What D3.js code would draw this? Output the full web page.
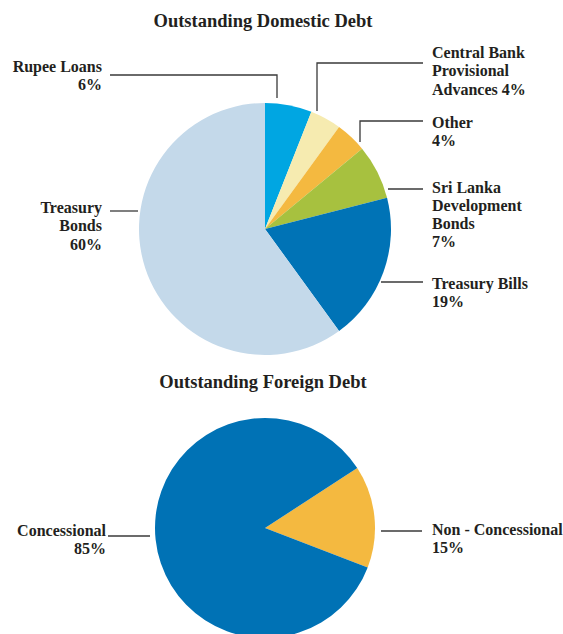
<!DOCTYPE html>
<html>
<head>
<meta charset="utf-8">
<script src="https://cdn.jsdelivr.net/npm/d3@7"></script>
<style>
  html, body { margin: 0; padding: 0; background: #ffffff; }
  svg { display: block; }
  text { font-family: "Liberation Serif", "Times New Roman", serif; font-weight: bold; fill: #231f20; }
</style>
</head>
<body>
<svg id="chart" width="563" height="634"></svg>
<script>
// Outstanding domestic debt composition (%)
const domesticCategories = ["Rupee Loans", "Central Bank Provisional Advances", "Other", "Sri Lanka Development Bonds", "Treasury Bills", "Treasury Bonds"];
const domesticValues = [6, 4, 4, 7, 19, 60];
const domesticColors = ["#00a6e2", "#f6ebb0", "#f4b940", "#a7c13f", "#0073b6", "#c4d9ea"];

// Outstanding foreign debt composition (%)
const foreignCategories = ["Non - Concessional", "Concessional"];
const foreignValues = [15, 85];
const foreignColors = ["#f4b940", "#0072b5"];

const titles = ["Outstanding Domestic Debt", "Outstanding Foreign Debt"];

const svg = d3.select("#chart");
const lineColor = "#3a3a3a";

// Label blocks: text lines, anchor point, alignment, and leader-line path
const domesticLabels = [
  { lines: ["Rupee Loans", "6%"], x: 102, y: 72, anchor: "end",
    leader: [[110, 75], [277, 75], [277, 98]] },
  { lines: ["Central Bank", "Provisional", "Advances 4%"], x: 432, y: 58, anchor: "start",
    leader: [[423, 63], [317, 63], [317, 111]] },
  { lines: ["Other", "4%"], x: 432, y: 128, anchor: "start",
    leader: [[423, 121], [360, 121], [360, 142]] },
  { lines: ["Sri Lanka", "Development", "Bonds", "7%"], x: 432, y: 192.5, anchor: "start",
    leader: [[388, 189], [423, 189]] },
  { lines: ["Treasury Bills", "19%"], x: 432, y: 288.5, anchor: "start",
    leader: [[381, 282], [423, 282]] },
  { lines: ["Treasury", "Bonds", "60%"], x: 102, y: 213, anchor: "end",
    leader: [[110, 211], [138, 211]] }
];

const foreignLabels = [
  { lines: ["Non - Concessional", "15%"], x: 432, y: 535, anchor: "start",
    leader: [[381, 531], [422, 531]] },
  { lines: ["Concessional", "85%"], x: 106, y: 536, anchor: "end",
    leader: [[108, 536], [150, 536]] }
];

function drawPie(values, colors, cx, cy, r, startAngle) {
  const pie = d3.pie().sort(null).value(d => d)
    .startAngle(startAngle).endAngle(startAngle + 2 * Math.PI);
  const arc = d3.arc().innerRadius(0).outerRadius(r);
  svg.append("g")
    .attr("transform", `translate(${cx},${cy})`)
    .selectAll("path")
    .data(pie(values))
    .join("path")
    .attr("d", arc)
    .attr("fill", (d, i) => colors[i]);
}

function drawLabels(labels) {
  const line = d3.line();
  labels.forEach(l => {
    svg.append("path")
      .attr("d", line(l.leader))
      .attr("fill", "none")
      .attr("stroke", lineColor)
      .attr("stroke-width", 1.3);
    const t = svg.append("text")
      .attr("x", l.x).attr("y", l.y)
      .attr("text-anchor", l.anchor)
      .attr("font-size", 16);
    l.lines.forEach((s, i) => {
      t.append("tspan").attr("x", l.x).attr("dy", i === 0 ? 0 : 18.3).text(s);
    });
  });
}

// Titles
svg.append("text").attr("x", 263).attr("y", 27).attr("text-anchor", "middle")
  .attr("font-size", 18.5).text(titles[0]);
svg.append("text").attr("x", 263).attr("y", 388).attr("text-anchor", "middle")
  .attr("font-size", 18.5).text(titles[1]);

drawPie(domesticValues, domesticColors, 265, 229, 126, 0);
drawPie(foreignValues, foreignColors, 265, 528, 110, 57 * Math.PI / 180);

drawLabels(domesticLabels);
drawLabels(foreignLabels);
</script>
</body>
</html>
